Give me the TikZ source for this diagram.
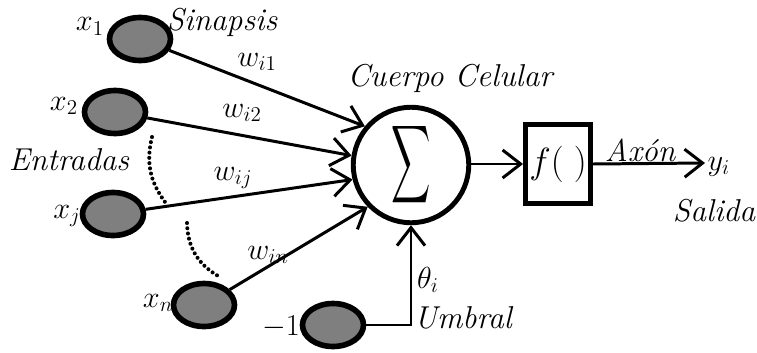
\documentclass[tikz,border=0pt]{standalone}
\usepackage{amsmath,amssymb}
\usepackage{graphicx}
\usepackage{xcolor}
\usepackage{tikz}
\usetikzlibrary{positioning,arrows.meta,shapes.geometric}
\definecolor{ink}{HTML}{000000}
\definecolor{soma}{HTML}{7F7F7F}

\begin{document}
\begin{tikzpicture}[x=0.02cm,y=-0.02cm,every node/.style={font=\fontsize{18}{21}\selectfont,text=ink},
  entrada/.style={ellipse,draw=ink,fill=soma,line width=3.2pt,minimum width=1.22cm,minimum height=0.86cm,inner sep=0pt},
  conn/.style={draw=ink,line width=1.7pt,-{Straight Barb[length=3.6mm,width=5.6mm]}},
  puntos/.style={draw=ink,line width=2.3pt,line cap=round,dash pattern=on 0pt off 3pt}]
  \useasboundingbox (0,0) rectangle (757,352);
  \node[entrada] (x1) at (140,39) {};
  \node[entrada] (x2) at (115,112) {};
  \node[entrada] (xj) at (113,214) {};
  \node[entrada] (xn) at (204,305) {};
  \node[entrada] (bias) at (333,325) {};
  \node[circle,draw=ink,line width=2.8pt,minimum size=2.31cm,inner sep=0pt] (suma) at (411,165)
    {\fontsize{31}{36}\selectfont\scalebox{0.5}[1]{$\displaystyle\sum$}};
  \node[draw=ink,line width=2.8pt,minimum width=1.3cm,minimum height=1.58cm,inner sep=0pt] (fx) at (558,164)
    {\fontsize{21}{24}\selectfont$f(\;)$};
  \coordinate (yout) at (705,163);
  \node[left=-2pt of x1.west,yshift=7pt] (lx1) {$x_1$};
  \node (lx2) at (64,106) {$x_2$};
  \node (lxj) at (67,216) {$x_j$};
  \node (lxn) at (158,303) {$x_n$};
  \node (lbias) at (281,327) {$-1$};
  \draw[conn] (x1) -- (suma.140);
  \draw[conn] (x2) -- (suma.171);
  \draw[conn] (xj) -- (suma.194);
  \draw[conn] (xn) -- (suma.224);
  \draw[conn] (bias) -| (suma.south);
  \draw[conn] (suma.east |- fx.west) -- (fx.west);
  \draw[conn] (fx.east) -- (yout);
  \node[right=-2pt of yout,yshift=-2pt] (yi) {$y_i$};
  \draw[puntos] (152,137) to[bend right=25] (165,202);
  \draw[puntos] (187,223) to[bend right=30] (220,277);
  \node (wi1) at (257,62) {$w_{i1}$};
  \node (wi2) at (242,113) {$w_{i2}$};
  \node (wij) at (233,178) {$w_{ij}$};
  \node (win) at (268,255) {$w_{in}$};
  \node (theta) at (428,280) {$\theta_i$};
  \node (sinapsis) at (222,22) {\itshape Sinapsis};
  \node[inner sep=1pt] (cuerpo) at (450,78) {\itshape Cuerpo Celular};
  \node (entradas) at (69,160) {\itshape Entradas};
  \node (axon) at (640,150) {\itshape Axón};
  \node (salida) at (714,211) {\itshape Salida};
  \node (umbral) at (463,318) {\itshape Umbral};
\end{tikzpicture}
\end{document}
